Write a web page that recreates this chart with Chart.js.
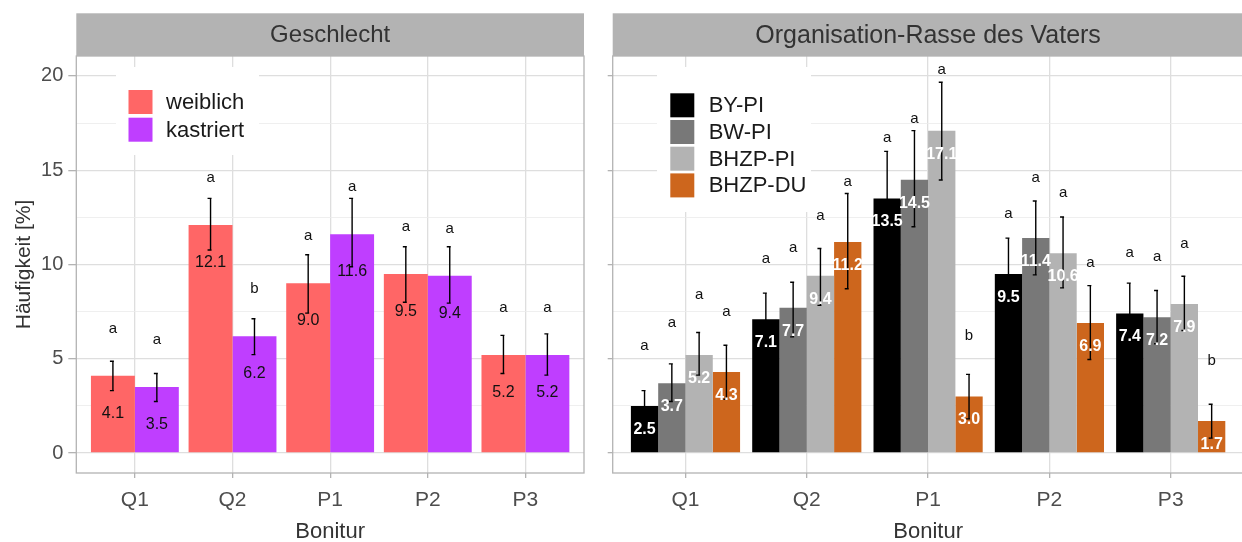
<!DOCTYPE html>
<html>
<head>
<meta charset="utf-8">
<script src="https://cdn.jsdelivr.net/npm/chart.js@4.4.1/dist/chart.umd.min.js"></script>
<style>
  html, body { margin: 0; padding: 0; background: #ffffff; overflow: hidden; width: 1242px; height: 542px; }
  canvas { position: absolute; top: 0; }
  #sexChart { left: 0; }
  #sireChart { left: 600px; }
</style>
</head>
<body>
<canvas id="sexChart" width="600" height="542"></canvas>
<canvas id="sireChart" width="650" height="542"></canvas>
<script>
// ---- data ----
const categories = ['Q1', 'Q2', 'P1', 'P2', 'P3'];
const yMajorTicks = [0, 5, 10, 15, 20];
const yMinorTicks = [2.5, 7.5, 12.5, 17.5];

// Panel "Geschlecht"
const weiblich        = [4.1, 12.1, 9.0, 9.5, 5.2];
const weiblichLow     = [3.31, 10.77, 7.42, 8.0, 4.22];
const weiblichHigh    = [4.87, 13.51, 10.52, 10.94, 6.24];
const weiblichLetters = ['a', 'a', 'a', 'a', 'a'];

const kastriert        = [3.5, 6.2, 11.6, 9.4, 5.2];
const kastriertLow     = [2.73, 5.22, 9.88, 7.95, 4.13];
const kastriertHigh    = [4.22, 7.12, 13.51, 10.94, 6.32];
const kastriertLetters = ['a', 'b', 'a', 'a', 'a'];

// Panel "Organisation-Rasse des Vaters"
const byPi        = [2.5, 7.1, 13.5, 9.5, 7.4];
const byPiLow     = [1.69, 5.72, 11.0, 7.6, 5.8];
const byPiHigh    = [3.31, 8.48, 16.0, 11.4, 9.01];
const byPiLetters = ['a', 'a', 'a', 'a', 'a'];

const bwPi        = [3.7, 7.7, 14.5, 11.4, 7.2];
const bwPiLow     = [2.73, 6.16, 12.0, 9.45, 5.8];
const bwPiHigh    = [4.73, 9.06, 17.1, 13.37, 8.62];
const bwPiLetters = ['a', 'a', 'a', 'a', 'a'];

const bhzpPi        = [5.2, 9.4, 17.1, 10.6, 7.9];
const bhzpPiLow     = [4.13, 7.83, 14.48, 8.76, 6.5];
const bhzpPiHigh    = [6.39, 10.85, 19.67, 12.52, 9.38];
const bhzpPiLetters = ['a', 'a', 'a', 'a', 'a'];

const bhzpDu        = [4.3, 11.2, 3.0, 6.9, 1.7];
const bhzpDuLow     = [2.85, 8.71, 1.81, 4.96, 0.79];
const bhzpDuHigh    = [5.72, 13.77, 4.17, 8.88, 2.59];
const bhzpDuLetters = ['a', 'a', 'b', 'a', 'b'];

// ---- styling ----
const FONT = '"Liberation Sans", Arial, Helvetica, sans-serif';
Chart.defaults.font.family = FONT;
const GRID_MAJOR = '#dedede';
const GRID_MINOR = '#ebebeb';
const FRAME = '#b3b3b3';
const AXIS_TEXT = '#4d4d4d';

function toPoints(values) {
  return values.map((v, i) => ({ x: i, y: v }));
}

function makeDataset(label, values, low, high, letters, color) {
  return {
    label: label,
    data: toPoints(values),
    backgroundColor: color,
    borderWidth: 0,
    low: low,
    high: high,
    letters: letters
  };
}

// strip, error bars, labels, frame and inset legend for one facet
const facetPlugin = {
  id: 'facet',
  afterDatasetsDraw(chart, args, opts) {
    const ctx = chart.ctx;
    const a = chart.chartArea;
    const y = chart.scales.y;
    ctx.save();

    // error bars
    ctx.strokeStyle = '#000000';
    ctx.lineWidth = 1.4;
    chart.data.datasets.forEach((ds, di) => {
      const meta = chart.getDatasetMeta(di);
      meta.data.forEach((bar, i) => {
        const x = bar.x;
        const yl = y.getPixelForValue(ds.low[i]);
        const yh = y.getPixelForValue(ds.high[i]);
        ctx.beginPath();
        ctx.moveTo(x, yl); ctx.lineTo(x, yh);
        ctx.moveTo(x - 3, yl); ctx.lineTo(x + 1, yl);
        ctx.moveTo(x - 3, yh); ctx.lineTo(x + 1, yh);
        ctx.stroke();
      });
    });

    // value labels inside the bars and significance letters above them
    ctx.textAlign = 'center';
    ctx.textBaseline = 'middle';
    chart.data.datasets.forEach((ds, di) => {
      const meta = chart.getDatasetMeta(di);
      meta.data.forEach((bar, i) => {
        const v = ds.data[i].y;
        ctx.font = opts.valueFont;
        ctx.fillStyle = opts.valueColor;
        ctx.fillText(v.toFixed(1), bar.x, y.getPixelForValue(v + opts.valueShift));
        ctx.font = opts.letterFont;
        ctx.fillStyle = '#111111';
        ctx.fillText(ds.letters[i], bar.x, y.getPixelForValue(v + opts.letterShift));
      });
    });

    // panel frame
    ctx.strokeStyle = FRAME;
    ctx.lineWidth = 1.3;
    ctx.strokeRect(a.left, a.top, a.right - a.left, a.bottom - a.top);

    // facet strip
    ctx.fillStyle = '#b3b3b3';
    ctx.fillRect(a.left, opts.stripTop, a.right - a.left, a.top - opts.stripTop);
    ctx.fillStyle = '#333333';
    ctx.font = opts.stripFont;
    ctx.fillText(opts.stripText, (a.left + a.right) / 2, (opts.stripTop + a.top) / 2 + 1);

    // inset legend
    const L = opts.legend;
    ctx.fillStyle = '#ffffff';
    ctx.fillRect(L.x, L.y, L.w, L.h);
    ctx.textAlign = 'left';
    ctx.font = '22px ' + FONT;
    chart.data.datasets.forEach((ds, di) => {
      const ky = L.keyTop + di * L.pitch;
      ctx.fillStyle = ds.backgroundColor;
      ctx.fillRect(L.keyX, ky, L.key, L.key);
      ctx.fillStyle = '#1a1a1a';
      ctx.fillText(ds.label, L.textX, ky + L.key / 2 + 1);
    });
    ctx.restore();
  }
};

function makeOptions(cfg) {
  return {
    responsive: false,
    animation: false,
    events: [],
    layout: { padding: { top: 56, right: cfg.padRight, bottom: 0, left: 0 } },
    datasets: { bar: { categoryPercentage: 0.9, barPercentage: 1.0 } },
    plugins: {
      legend: { display: false },
      tooltip: { enabled: false },
      facet: cfg.facet
    },
    scales: {
      x: {
        type: 'linear',
        min: -0.6,
        max: categories.length - 0.4,
        offset: false,
        afterBuildTicks: (s) => { s.ticks = categories.map((c, i) => ({ value: i })); },
        afterFit: (s) => { s.height = 69; },
        grid: { offset: false, color: GRID_MAJOR, lineWidth: 1.3, tickLength: 5, tickColor: FRAME, tickWidth: 1.3 },
        border: { display: false },
        ticks: {
          autoSkip: false,
          maxRotation: 0,
          padding: 10,
          color: AXIS_TEXT,
          font: { size: 21 },
          callback: (v) => categories[v]
        },
        title: {
          display: true,
          text: 'Bonitur',
          color: '#333333',
          font: { size: 22, lineHeight: 1 },
          padding: { top: 0, bottom: -1 }
        }
      },
      y: {
        min: -1.06,
        max: 21.06,
        afterBuildTicks: (s) => {
          s.ticks = yMajorTicks.concat(yMinorTicks).sort((p, q) => p - q).map(v => ({ value: v }));
        },
        afterFit: (s) => { s.width = cfg.yWidth; },
        grid: {
          color: (c) => (yMajorTicks.includes(c.tick.value) ? GRID_MAJOR : GRID_MINOR),
          lineWidth: (c) => (yMajorTicks.includes(c.tick.value) ? 1.3 : 0.8),
          tickLength: cfg.yTickLength,
          tickColor: (c) => (yMajorTicks.includes(c.tick.value) ? FRAME : 'rgba(0,0,0,0)'),
          tickWidth: 1.3
        },
        border: { display: false },
        ticks: {
          display: cfg.showYLabels,
          padding: 5,
          color: AXIS_TEXT,
          font: { size: 20 },
          callback: (v) => (yMajorTicks.includes(v) ? String(v) : '')
        },
        title: {
          display: cfg.showYLabels,
          text: 'Häufigkeit [%]',
          color: '#333333',
          font: { size: 21, lineHeight: 1.2 },
          padding: { top: 12, bottom: 0 }
        }
      }
    }
  };
}

new Chart(document.getElementById('sexChart'), {
  type: 'bar',
  data: {
    datasets: [
      makeDataset('weiblich', weiblich, weiblichLow, weiblichHigh, weiblichLetters, '#ff6666'),
      makeDataset('kastriert', kastriert, kastriertLow, kastriertHigh, kastriertLetters, '#bf3eff')
    ]
  },
  options: makeOptions({
    padRight: 16,
    yWidth: 76.3,
    yTickLength: 8,
    showYLabels: true,
    facet: {
      stripText: 'Geschlecht',
      stripFont: '24px ' + FONT,
      stripTop: 13.3,
      valueFont: '16px ' + FONT,
      valueColor: '#111111',
      valueShift: -2.0,
      letterFont: '15px ' + FONT,
      letterShift: 2.5,
      legend: { x: 116, y: 67, w: 143, h: 88, keyX: 128.5, keyTop: 90, key: 24, pitch: 27.7, textX: 166 }
    }
  }),
  plugins: [facetPlugin]
});

new Chart(document.getElementById('sireChart'), {
  type: 'bar',
  data: {
    datasets: [
      makeDataset('BY-PI', byPi, byPiLow, byPiHigh, byPiLetters, '#000000'),
      makeDataset('BW-PI', bwPi, bwPiLow, bwPiHigh, bwPiLetters, '#787878'),
      makeDataset('BHZP-PI', bhzpPi, bhzpPiLow, bhzpPiHigh, bhzpPiLetters, '#b3b3b3'),
      makeDataset('BHZP-DU', bhzpDu, bhzpDuLow, bhzpDuHigh, bhzpDuLetters, '#cd661d')
    ]
  },
  options: makeOptions({
    padRight: 6.5,
    yWidth: 12.7,
    yTickLength: 5,
    showYLabels: false,
    facet: {
      stripText: 'Organisation-Rasse des Vaters',
      stripFont: '25px ' + FONT,
      stripTop: 13.3,
      valueFont: 'bold 16px ' + FONT,
      valueColor: '#ffffff',
      valueShift: -1.25,
      letterFont: '15px ' + FONT,
      letterShift: 3.2,
      legend: { x: 57, y: 67, w: 154, h: 145, keyX: 70.3, keyTop: 93.3, key: 24, pitch: 26.7, textX: 108.7 }
    }
  }),
  plugins: [facetPlugin]
});
</script>
</body>
</html>
